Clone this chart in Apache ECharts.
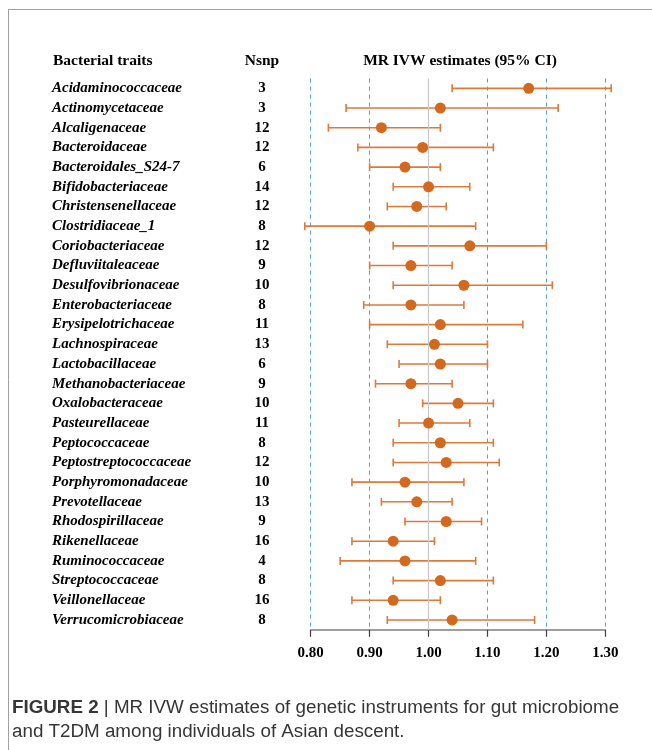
<!DOCTYPE html>
<html><head><meta charset="utf-8">
<script src="https://cdn.jsdelivr.net/npm/echarts@6/dist/echarts.min.js"></script>
<style>html,body{margin:0;padding:0;background:#fff}#c{width:652px;height:750px}</style>
</head><body><div id="c"></div>
<script>
const traits = ['Acidaminococcaceae','Actinomycetaceae','Alcaligenaceae','Bacteroidaceae','Bacteroidales_S24-7','Bifidobacteriaceae','Christensenellaceae','Clostridiaceae_1','Coriobacteriaceae','Defluviitaleaceae','Desulfovibrionaceae','Enterobacteriaceae','Erysipelotrichaceae','Lachnospiraceae','Lactobacillaceae','Methanobacteriaceae','Oxalobacteraceae','Pasteurellaceae','Peptococcaceae','Peptostreptococcaceae','Porphyromonadaceae','Prevotellaceae','Rhodospirillaceae','Rikenellaceae','Ruminococcaceae','Streptococcaceae','Veillonellaceae','Verrucomicrobiaceae'];
const nsnp = [3,3,12,12,6,14,12,8,12,9,10,8,11,13,6,9,10,11,8,12,10,13,9,16,4,8,16,8];
const estimate = [1.17,1.02,0.92,0.99,0.96,1.00,0.98,0.90,1.07,0.97,1.06,0.97,1.02,1.01,1.02,0.97,1.05,1.00,1.02,1.03,0.96,0.98,1.03,0.94,0.96,1.02,0.94,1.04];
const lower = [1.04,0.86,0.83,0.88,0.90,0.94,0.93,0.79,0.94,0.90,0.94,0.89,0.90,0.93,0.95,0.91,0.99,0.95,0.94,0.94,0.87,0.92,0.96,0.87,0.85,0.94,0.87,0.93];
const upper = [1.31,1.22,1.02,1.11,1.02,1.07,1.03,1.08,1.20,1.04,1.21,1.06,1.16,1.10,1.10,1.04,1.11,1.07,1.11,1.12,1.06,1.04,1.09,1.01,1.08,1.11,1.02,1.18];
const xTicks = [0.8,0.9,1.0,1.1,1.2,1.3];

const chart = echarts.init(document.getElementById('c'));
const serif = '"Liberation Serif", "Times New Roman", serif';
const sans = '"Liberation Sans", Arial, sans-serif';
const orange = '#d2691e';
const barColor = '#dd7a3a';
const hdr = {fontFamily: serif, fontWeight: 'bold', fontSize: 15.5, color: '#000'};

chart.setOption({
  animation: false,
  grid: {left: 310.7, right: 46.7, top: 78.5, bottom: 120.2, containLabel: false},
  title: [
    {text: 'Bacterial traits', left: 53, top: 53, padding: 0, textStyle: hdr},
    {text: 'Nsnp', left: 262, top: 53, padding: 0, textAlign: 'center', textStyle: hdr},
    {text: 'MR IVW estimates (95% CI)', left: 460, top: 53, padding: 0, textAlign: 'center', textStyle: hdr},
    {text: '{b|FIGURE 2} | MR IVW estimates of genetic instruments for gut microbiome\nand T2DM among individuals of Asian descent.', left: 12, top: 696, padding: 0,
     textStyle: {fontFamily: sans, fontWeight: 'normal', fontSize: 18.8, color: '#363636', lineHeight: 24,
       rich: {b: {fontFamily: sans, fontWeight: 'bold', fontSize: 18.8, color: '#363636', lineHeight: 24}}}}
  ],
  graphic: [
    {type: 'line', shape: {x1: 8, y1: 9.5, x2: 652, y2: 9.5}, style: {stroke: '#a0a0a0', lineWidth: 1}},
    {type: 'line', shape: {x1: 8.5, y1: 9, x2: 8.5, y2: 750}, style: {stroke: '#a0a0a0', lineWidth: 1}}
  ],
  xAxis: {
    type: 'value', min: 0.8, max: 1.3, interval: 0.1,
    axisLine: {show: true, lineStyle: {color: '#7f7f7f', width: 1.5}},
    axisTick: {show: true, length: 7, lineStyle: {color: '#404040', width: 1.2}},
    axisLabel: {margin: 16, fontFamily: serif, fontWeight: 'bold', fontSize: 15, color: '#000', formatter: v => v.toFixed(2)},
    splitLine: {show: true, showMinLine: true, showMaxLine: true, lineStyle: {type: [4, 4], color: ['#5b9bd5','#5b9bd5','rgba(0,0,0,0)','#5b9bd5','#5b9bd5','#5b9bd5'], width: 1}}
  },
  yAxis: [
    {type: 'category', data: traits, inverse: true, axisLine: {show: false}, axisTick: {show: false}, splitLine: {show: false},
     axisLabel: {align: 'left', margin: 258.7, fontFamily: serif, fontStyle: 'italic', fontWeight: 'bold', fontSize: 15, color: '#000', interval: 0}},
    {type: 'category', data: nsnp.map(String), inverse: true, position: 'left', axisLine: {show: false}, axisTick: {show: false}, splitLine: {show: false},
     axisLabel: {align: 'center', margin: 48.7, fontFamily: serif, fontWeight: 'bold', fontSize: 15, color: '#000', interval: 0}}
  ],
  series: [
    {type: 'line', data: [], markLine: {silent: true, symbol: 'none', label: {show: false}, lineStyle: {color: '#c8c8c8', type: 'solid', width: 1.2}, data: [{xAxis: 1.0}]}},
    {type: 'custom', yAxisIndex: 0,
     data: traits.map((t, i) => [i, lower[i], upper[i]]),
     encode: {x: [1, 2], y: 0},
     renderItem: function (params, api) {
       const i = api.value(0);
       const p1 = api.coord([api.value(1), i]);
       const p2 = api.coord([api.value(2), i]);
       const h = 4;
       const st = {stroke: barColor, lineWidth: 1.6};
       return {type: 'group', children: [
         {type: 'line', shape: {x1: p1[0], y1: p1[1], x2: p2[0], y2: p2[1]}, style: st},
         {type: 'line', shape: {x1: p1[0], y1: p1[1] - h, x2: p1[0], y2: p1[1] + h}, style: st},
         {type: 'line', shape: {x1: p2[0], y1: p2[1] - h, x2: p2[0], y2: p2[1] + h}, style: st}
       ]};
     }},
    {type: 'scatter', yAxisIndex: 0, symbol: 'circle', symbolSize: 11, itemStyle: {color: orange, opacity: 1},
     data: estimate.map((v, i) => [v, i]), z: 5}
  ]
});
</script></body></html>
